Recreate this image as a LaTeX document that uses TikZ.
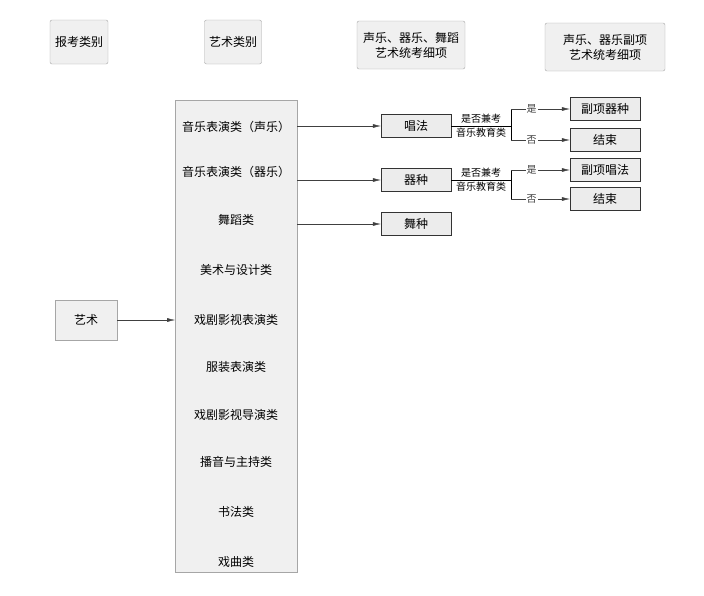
\documentclass[tikz,border=0pt]{standalone}
\usepackage{fontspec}
\setmainfont{Noto Sans CJK SC}
\usetikzlibrary{positioning,arrows.meta}
\tikzset{
	hbox/.style={draw=gray!70, fill=gray!12, rounded corners=2pt, align=center, font=\fontsize{12}{15}\selectfont, minimum height=44pt},
	sbox/.style={draw=black!80, fill=gray!15, font=\fontsize{12}{14}\selectfont, minimum width=70pt, minimum height=23pt, inner sep=1pt},
	item/.style={font=\fontsize{12}{14}\selectfont},
	arr/.style={-{Latex[length=8pt,width=4pt]}, gray!50!black},
	lbl/.style={font=\fontsize{10}{12}\selectfont, inner sep=1pt}
}
\begin{document}
\begin{tikzpicture}[x=1pt,y=-1pt]
		\useasboundingbox (0,0) rectangle (704,595);

		\node[hbox, minimum width=58pt] (hkind) at (79,42) {报考类别};
		\node[hbox, minimum width=57pt] (hart) at (233,42) {艺术类别};
		\node[hbox, minimum width=108pt, minimum height=48pt] (hdetail) at (411,45) {声乐、器乐、舞蹈\\艺术统考细项};
		\node[hbox, minimum width=120pt, minimum height=48pt] (hsub) at (605,47) {声乐、器乐副项\\艺术统考细项};

		\draw[draw=gray!70, fill=gray!12] (175,100) rectangle (297,572);
		\foreach \name/\y/\txt in {vocal/127/音乐表演类（声乐）, instr/172/音乐表演类（器乐）, dance/220/舞蹈类,
			design/270/美术与设计类, drama/320/戏剧影视表演类, fashion/367/服装表演类,
			direct/415/戏剧影视导演类, host/462/播音与主持类, calli/512/书法类, opera/562/戏曲类}
			\node[item] (\name) at (236,\y) {\txt};
		\coordinate (boxleft) at (175,320);

		\node[draw=gray!70, fill=gray!12, font=\fontsize{12}{14}\selectfont, minimum width=62pt, minimum height=40pt] (art) at (86,320) {艺术};
		\draw[arr] (art.east) -- (boxleft);

		% second column
		\node[sbox] (sing) at (416,126) {唱法};
		\node[sbox] (play) at (416,180) {器种};
		\node[sbox] (step) at (416,224) {舞种};
		\draw[arr] (297,126) -- (sing.west);
		\draw[arr] (297,180) -- (play.west);
		\draw[arr] (297,224) -- (step.west);

		% third column
		\node[sbox] (subplay) at (605,109) {副项器种};
		\node[sbox] (endA) at (605,140) {结束};
		\node[sbox] (subsing) at (605,170) {副项唱法};
		\node[sbox] (endB) at (605,199) {结束};

		\foreach \src/\yes/\no in {sing/subplay/endA, play/subsing/endB}{
			\coordinate (fork) at ([xshift=60pt]\src.east);
			\draw (\src.east) -- (fork);
			\node[lbl, above=1pt] at ([xshift=30pt]\src.east) {是否兼考};
			\node[lbl, below=1pt] at ([xshift=30pt]\src.east) {音乐教育类};
			\draw (fork |- \yes) -- (fork |- \no);
			\draw[arr] (fork |- \yes) -- node[lbl, fill=white, pos=.35] {是} (\yes.west);
			\draw[arr] (fork |- \no) -- node[lbl, fill=white, pos=.35] {否} (\no.west);
		}
	\end{tikzpicture}
\end{document}
